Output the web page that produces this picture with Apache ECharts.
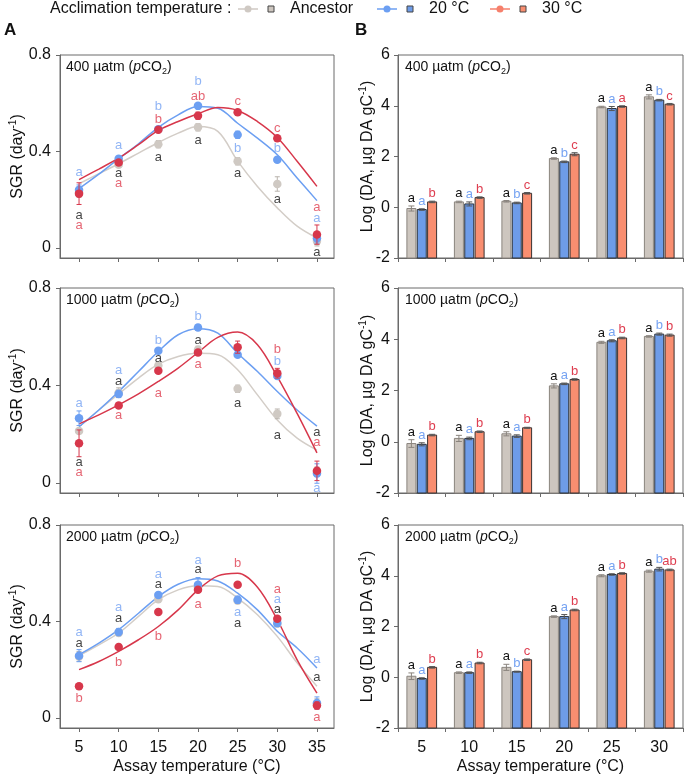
<!DOCTYPE html>
<html><head><meta charset="utf-8">
<script src="https://cdn.jsdelivr.net/npm/echarts@6/dist/echarts.min.js"></script>
<style>html,body{margin:0;padding:0;background:#fff}#c{width:685px;height:777px}</style>
</head><body><div id="c"></div><script>
const FONT = '"Liberation Sans", Arial, Helvetica, sans-serif';

// ---------- Panel A data (SGR, day^-1) ----------
const temps = [5, 10, 15, 20, 25, 30, 35];
const curveTemps = [5, 7.5, 10, 12.5, 15, 17.5, 20, 22.5, 25, 27.5, 30, 32.5, 35];
const xTicksA = [5, 10, 15, 20, 25, 30, 35];
const yTicksA = [0, 0.4, 0.8];

const sgr400Anc = [0.23, 0.345, 0.43, 0.50, 0.359, 0.265, 0.028];
const sgr400W20 = [0.241, 0.37, 0.492, 0.589, 0.469, 0.366, 0.04];
const sgr400W30 = [0.225, 0.354, 0.49, 0.548, 0.563, 0.455, 0.055];
const err400Anc = [0.02, 0.01, 0.015, 0.015, 0.015, 0.03, 0.02];
const err400W20 = [0.02, 0.01, 0.01, 0.01, 0.015, 0.01, 0.02];
const err400W30 = [0.045, 0.01, 0.01, 0.015, 0.01, 0.01, 0.04];
const fit400Anc = [0.266, 0.308, 0.349, 0.393, 0.437, 0.476, 0.503, 0.483, 0.36, 0.255, 0.166, 0.09, 0.041];
const fit400W20 = [0.246, 0.306, 0.37, 0.432, 0.50, 0.552, 0.586, 0.579, 0.517, 0.455, 0.386, 0.29, 0.196];
const fit400W30 = [0.283, 0.327, 0.372, 0.428, 0.487, 0.524, 0.556, 0.582, 0.570, 0.524, 0.458, 0.359, 0.255];

const sgr1000Anc = [0.213, 0.37, 0.482, 0.546, 0.386, 0.283, 0.045];
const sgr1000W20 = [0.265, 0.365, 0.542, 0.638, 0.526, 0.439, 0.038];
const sgr1000W30 = [0.162, 0.317, 0.46, 0.535, 0.557, 0.45, 0.049];
const err1000Anc = [0.01, 0.02, 0.01, 0.015, 0.015, 0.02, 0.02];
const err1000W20 = [0.03, 0.015, 0.01, 0.01, 0.01, 0.01, 0.04];
const err1000W30 = [0.055, 0.01, 0.01, 0.01, 0.025, 0.02, 0.04];
const fit1000Anc = [0.23, 0.299, 0.365, 0.43, 0.487, 0.519, 0.532, 0.526, 0.464, 0.361, 0.258, 0.183, 0.134];
const fit1000W20 = [0.23, 0.299, 0.375, 0.457, 0.539, 0.608, 0.633, 0.615, 0.532, 0.457, 0.375, 0.299, 0.233];
const fit1000W30 = [0.242, 0.279, 0.32, 0.365, 0.416, 0.471, 0.535, 0.597, 0.619, 0.567, 0.436, 0.285, 0.123];

const sgr2000Anc = [0.255, 0.352, 0.492, 0.542, 0.486, 0.39, 0.059];
const sgr2000W20 = [0.258, 0.356, 0.51, 0.552, 0.49, 0.393, 0.062];
const sgr2000W30 = [0.131, 0.294, 0.439, 0.531, 0.552, 0.411, 0.051];
const err2000Anc = [0.02, 0.01, 0.01, 0.015, 0.01, 0.01, 0.02];
const err2000W20 = [0.025, 0.015, 0.01, 0.03, 0.015, 0.01, 0.025];
const err2000W30 = [0.01, 0.01, 0.01, 0.01, 0.01, 0.01, 0.015];
const fit2000Anc = [0.258, 0.303, 0.352, 0.421, 0.49, 0.531, 0.548, 0.545, 0.497, 0.428, 0.338, 0.228, 0.131];
const fit2000W20 = [0.262, 0.31, 0.366, 0.434, 0.503, 0.554, 0.577, 0.568, 0.517, 0.448, 0.359, 0.29, 0.207];
const fit2000W30 = [0.20, 0.234, 0.276, 0.324, 0.379, 0.448, 0.531, 0.589, 0.60, 0.542, 0.407, 0.241, 0.103];

// significance letters: [temperature, value at letter, letter]
const let400Anc = [[5,0.135,'a'],[10,0.308,'a'],[15,0.377,'a'],[20,0.446,'a'],[25,0.308,'a'],[30,0.2,'a'],[35,-0.017,'a']];
const let400W20 = [[5,0.315,'a'],[10,0.425,'a'],[15,0.586,'b'],[20,0.69,'b'],[25,0.414,'b'],[30,0.411,'b'],[35,0.121,'a']];
const let400W30 = [[5,0.094,'a'],[10,0.266,'a'],[15,0.531,'b'],[20,0.63,'ab'],[25,0.607,'c'],[30,0.497,'c'],[35,0.166,'a']];
const let1000Anc = [[5,0.082,'a'],[10,0.416,'a'],[15,0.512,'a'],[20,0.583,'a'],[25,0.327,'a'],[30,0.196,'a'],[35,0.206,'a']];
const let1000W20 = [[5,0.327,'a'],[10,0.461,'a'],[15,0.583,'b'],[20,0.683,'b'],[30,0.498,'b'],[35,-0.023,'a']];
const let1000W30 = [[5,0.043,'a'],[10,0.276,'a'],[15,0.368,'a'],[20,0.487,'a'],[30,0.546,'b'],[35,0.166,'a']];
const let2000Anc = [[5,0.308,'a'],[10,0.414,'a'],[15,0.552,'a'],[20,0.617,'a'],[25,0.39,'a'],[30,0.448,'a'],[35,0.166,'a']];
const let2000W20 = [[5,0.356,'a'],[10,0.459,'a'],[15,0.597,'a'],[20,0.655,'a'],[25,0.439,'a'],[30,0.49,'a'],[35,0.244,'a']];
const let2000W30 = [[5,0.08,'b'],[10,0.23,'b'],[15,0.338,'b'],[20,0.472,'a'],[25,0.641,'b'],[30,0.534,'a'],[35,0.0,'a']];

// ---------- Panel B data (Log DA) ----------
const barCats = ['5', '10', '15', '20', '25', '30'];
const da400Anc = [-0.05, 0.21, 0.235, 1.92, 3.95, 4.35];
const da400W20 = [-0.09, 0.13, 0.17, 1.79, 3.89, 4.22];
const da400W30 = [0.21, 0.38, 0.55, 2.09, 3.97, 4.06];
const daErr400Anc = [0.1, 0.03, 0.03, 0.03, 0.03, 0.08];
const daErr400W20 = [0.03, 0.08, 0.03, 0.03, 0.08, 0.03];
const daErr400W30 = [0.03, 0.03, 0.03, 0.06, 0.03, 0.03];
const daLet400Anc = ['a','a','a','a','a','a'];
const daLet400W20 = ['a','a','b','b','a','b'];
const daLet400W30 = ['b','b','c','c','a','c'];

const da1000Anc = [-0.07, 0.13, 0.31, 2.18, 3.88, 4.11];
const da1000W20 = [-0.10, 0.13, 0.22, 2.26, 3.94, 4.20];
const da1000W30 = [0.26, 0.39, 0.545, 2.43, 4.05, 4.16];
const daErr1000Anc = [0.15, 0.12, 0.08, 0.08, 0.04, 0.03];
const daErr1000W20 = [0.06, 0.05, 0.05, 0.03, 0.04, 0.04];
const daErr1000W30 = [0.03, 0.03, 0.02, 0.03, 0.03, 0.04];
const daLet1000Anc = ['a','a','a','a','a','a'];
const daLet1000W20 = ['a','a','a','a','a','b'];
const daLet1000W30 = ['b','b','b','b','b','b'];

const da2000Anc = [0.04, 0.18, 0.39, 2.39, 4.00, 4.18];
const da2000W20 = [-0.05, 0.18, 0.22, 2.39, 4.05, 4.26];
const da2000W30 = [0.39, 0.56, 0.69, 2.65, 4.09, 4.23];
const daErr2000Anc = [0.13, 0.03, 0.12, 0.03, 0.04, 0.04];
const daErr2000W20 = [0.03, 0.03, 0.02, 0.08, 0.03, 0.07];
const daErr2000W30 = [0.03, 0.03, 0.03, 0.03, 0.03, 0.03];
const daLet2000Anc = ['a','a','a','a','a','a'];
const daLet2000W20 = ['a','a','b','a','a','b'];
const daLet2000W30 = ['b','b','c','b','b','ab'];

const panelCO2 = ['400', '1000', '2000'];
const groupNames = ['Ancestor', '20 °C', '30 °C'];

// ---------- styling ----------
const PT = ['#cfc9c3', '#6c9ff2', '#d7374b'];
const LINE = ['#d3cdc7', '#6c9ff2', '#d7374b'];
const ERRC = ['#b9b3ad', '#6c9ff2', '#d7374b'];
const LETC = ['#111111', '#76a3f2', '#de3e50'];
const BARF = ['#cdc6bf', '#6e9ce8', '#f98e70'];
const BARB = ['#8a847e', '#2b3038', '#3a3232'];
const BERR = ['#8a847e', '#555555', '#555555'];
const tops = [55, 288, 525];
const heights = [203, 205, 203];
const AXC = '#6a6a6a';
const BAR_W = 9, BAR_STEP = 10.35;

const sgrSets = [
  [sgr400Anc, sgr400W20, sgr400W30, err400Anc, err400W20, err400W30, fit400Anc, fit400W20, fit400W30, let400Anc, let400W20, let400W30],
  [sgr1000Anc, sgr1000W20, sgr1000W30, err1000Anc, err1000W20, err1000W30, fit1000Anc, fit1000W20, fit1000W30, let1000Anc, let1000W20, let1000W30],
  [sgr2000Anc, sgr2000W20, sgr2000W30, err2000Anc, err2000W20, err2000W30, fit2000Anc, fit2000W20, fit2000W30, let2000Anc, let2000W20, let2000W30]
];
const daSets = [
  [da400Anc, da400W20, da400W30, daErr400Anc, daErr400W20, daErr400W30, daLet400Anc, daLet400W20, daLet400W30],
  [da1000Anc, da1000W20, da1000W30, daErr1000Anc, daErr1000W20, daErr1000W30, daLet1000Anc, daLet1000W20, daLet1000W30],
  [da2000Anc, da2000W20, da2000W30, daErr2000Anc, daErr2000W20, daErr2000W30, daLet2000Anc, daLet2000W20, daLet2000W30]
];

const gA = [], gB = [], xA = [], xB = [], yA = [], yB = [], series = [], titles = [];

const richTitle = {
  n: {fontSize: 14, fontFamily: FONT, color: '#111', fontWeight: 'normal', lineHeight: 18},
  i: {fontSize: 14, fontFamily: FONT, color: '#111', fontWeight: 'normal', fontStyle: 'italic', lineHeight: 18},
  s: {fontSize: 9, fontFamily: FONT, color: '#111', fontWeight: 'normal', lineHeight: 8, verticalAlign: 'bottom'}
};
const supRich = {sup: {fontSize: 10, fontFamily: FONT, color: '#111', lineHeight: 10, verticalAlign: 'top'}};

function errRender(offsetPx, color, cap) {
  return function (params, api) {
    const x = api.value(0), lo = api.value(1), hi = api.value(2);
    const p1 = api.coord([x, lo]), p2 = api.coord([x, hi]);
    const cx = p1[0] + offsetPx;
    const st = {stroke: color, lineWidth: 1};
    return {type: 'group', children: [
      {type: 'line', shape: {x1: cx, y1: p1[1], x2: cx, y2: p2[1]}, style: st},
      {type: 'line', shape: {x1: cx - cap, y1: p1[1], x2: cx + cap, y2: p1[1]}, style: st},
      {type: 'line', shape: {x1: cx - cap, y1: p2[1], x2: cx + cap, y2: p2[1]}, style: st}
    ]};
  };
}

// bars drawn from the bottom of the value axis (-2) up to the value
function barRender(k, letters, errs) {
  return function (params, api) {
    const j = api.value(0), v = api.value(1);
    const yMin = api.coord([j, -2]);
    const top = api.coord([j, v]);
    const errTop = api.coord([j, v + errs[params.dataIndex]]);
    const cx = top[0] + (k - 1) * BAR_STEP;
    return {type: 'group', children: [
      {type: 'rect', shape: {x: cx - BAR_W / 2, y: top[1], width: BAR_W, height: yMin[1] - top[1]},
        style: {fill: BARF[k], stroke: BARB[k], lineWidth: 1}},
      {type: 'text', x: cx, y: Math.min(top[1], errTop[1]) - 1,
        style: {text: letters[params.dataIndex], fill: LETC[k], font: '13px ' + FONT, align: 'center', verticalAlign: 'bottom'}}
    ]};
  };
}

for (let i = 0; i < 3; i++) {
  const last = i === 2;
  // ---- Panel A, grid i ----
  gA.push({left: 60, top: tops[i], width: 274, height: heights[i], show: true, borderColor: AXC, borderWidth: 1});
  xA.push({
    type: 'value', gridIndex: i, min: 2.6, max: 37.15,
    axisLine: {show: true, onZero: false, lineStyle: {color: AXC}},
    axisTick: {show: true, inside: false, length: 4, customValues: xTicksA, lineStyle: {color: AXC}},
    axisLabel: {show: last, customValues: xTicksA, margin: 12, fontSize: 16, color: '#111', fontFamily: FONT},
    splitLine: {show: false},
    name: last ? 'Assay temperature (°C)' : '', nameLocation: 'middle', nameGap: 31, nameMoveOverlap: false,
    nameTextStyle: {fontSize: 16, color: '#111', fontFamily: FONT}
  });
  yA.push({
    type: 'value', gridIndex: i, min: -0.042, max: 0.8,
    axisLine: {show: true, onZero: false, lineStyle: {color: AXC}},
    axisTick: {show: true, length: 4, customValues: yTicksA, lineStyle: {color: AXC}},
    axisLabel: {customValues: yTicksA, margin: 9, fontSize: 16, color: '#111', fontFamily: FONT},
    splitLine: {show: false},
    name: 'SGR (day{sup|-1})', nameLocation: 'middle', nameGap: 32, nameMoveOverlap: false,
    nameTextStyle: {fontSize: 16, color: '#111', fontFamily: FONT, lineHeight: 20, rich: supRich}
  });
  const S = sgrSets[i];
  for (let k = 0; k < 3; k++) {
    series.push({
      type: 'line', xAxisIndex: i, yAxisIndex: i, smooth: 0.35, showSymbol: false, silent: true,
      data: curveTemps.map((t, j) => [t, S[6 + k][j]]),
      lineStyle: {color: LINE[k], width: 1.5}, z: 2 + k * 0.1
    });
  }
  for (let k = 0; k < 3; k++) {
    series.push({
      type: 'custom', xAxisIndex: i, yAxisIndex: i, silent: true, z: 3 + k * 0.1,
      renderItem: errRender(0, ERRC[k], 2.5),
      data: temps.map((t, j) => [t, S[k][j] - S[3 + k][j], S[k][j] + S[3 + k][j]])
    });
    series.push({
      type: 'scatter', xAxisIndex: i, yAxisIndex: i, symbolSize: 8.5, silent: true, z: 3.05 + k * 0.1,
      itemStyle: {color: PT[k], opacity: 1},
      data: temps.map((t, j) => [t, S[k][j]])
    });
  }
  for (let k = 0; k < 3; k++) {
    series.push({
      type: 'scatter', xAxisIndex: i, yAxisIndex: i, symbolSize: 1, silent: true, z: 6,
      itemStyle: {color: 'rgba(0,0,0,0)'},
      label: {show: true, position: 'inside', formatter: p => p.data[2], color: LETC[k], fontSize: 13, fontFamily: FONT},
      data: S[9 + k]
    });
  }
  titles.push({
    text: '{n|' + panelCO2[i] + ' µatm (}{i|p}{n|CO}{s|2}{n|)}',
    left: 66, top: tops[i] + 3, padding: 0,
    textStyle: {fontWeight: 'normal', rich: richTitle}
  });

  // ---- Panel B, grid 3+i ----
  const g = 3 + i;
  gB.push({left: 398, top: tops[i], width: 285, height: heights[i], show: true, borderColor: AXC, borderWidth: 1});
  xB.push({
    type: 'category', gridIndex: g, data: barCats, boundaryGap: true,
    axisLine: {show: true, onZero: false, lineStyle: {color: AXC}},
    axisTick: {show: true, length: 4, lineStyle: {color: AXC}},
    axisLabel: {show: last, margin: 12, fontSize: 16, color: '#111', fontFamily: FONT},
    splitLine: {show: false},
    name: last ? 'Assay temperature (°C)' : '', nameLocation: 'middle', nameGap: 31, nameMoveOverlap: false,
    nameTextStyle: {fontSize: 16, color: '#111', fontFamily: FONT}
  });
  yB.push({
    type: 'value', gridIndex: g, min: -2, max: 6, interval: 2,
    axisLine: {show: true, onZero: false, lineStyle: {color: AXC}},
    axisTick: {show: true, length: 4, lineStyle: {color: AXC}},
    axisLabel: {margin: 8, fontSize: 16, color: '#111', fontFamily: FONT},
    splitLine: {show: false},
    name: 'Log (DA, µg DA gC{sup|-1})', nameLocation: 'middle', nameGap: 20, nameMoveOverlap: false,
    nameTextStyle: {fontSize: 16, color: '#111', fontFamily: FONT, lineHeight: 20, rich: supRich}
  });
  const D = daSets[i];
  for (let k = 0; k < 3; k++) {
    series.push({
      type: 'custom', xAxisIndex: g, yAxisIndex: g, name: groupNames[k], silent: true, z: 2,
      renderItem: barRender(k, D[6 + k], D[3 + k]),
      data: D[k].map((v, j) => [j, v])
    });
  }
  for (let k = 0; k < 3; k++) {
    series.push({
      type: 'custom', xAxisIndex: g, yAxisIndex: g, silent: true, z: 4,
      renderItem: errRender((k - 1) * BAR_STEP, BERR[k], 3),
      data: barCats.map((c, j) => [j, D[k][j] - D[3 + k][j], D[k][j] + D[3 + k][j]])
    });
  }
  titles.push({
    text: '{n|' + panelCO2[i] + ' µatm (}{i|p}{n|CO}{s|2}{n|)}',
    left: 405, top: tops[i] + 3, padding: 0,
    textStyle: {fontWeight: 'normal', rich: richTitle}
  });
}

// ---------- legend & panel letters (graphic) ----------
const legY = 9;
const legFont = '16px ' + FONT;
const graphic = [
  {type: 'text', x: 50, y: legY, style: {text: 'Acclimation temperature :', font: legFont, fill: '#111', verticalAlign: 'middle'}},
  {type: 'text', x: 4, y: 30, style: {text: 'A', font: 'bold 17px ' + FONT, fill: '#111', verticalAlign: 'middle'}},
  {type: 'text', x: 355, y: 30, style: {text: 'B', font: 'bold 17px ' + FONT, fill: '#111', verticalAlign: 'middle'}}
];
const legX = [238, 377, 490];
const legLineC = ['#cfc9c3', '#6c9ff2', '#f6806c'];
groupNames.forEach((nm, k) => {
  const x0 = legX[k];
  graphic.push({type: 'line', shape: {x1: x0, y1: legY, x2: x0 + 20, y2: legY}, style: {stroke: legLineC[k], lineWidth: 1.5}});
  graphic.push({type: 'circle', shape: {cx: x0 + 10, cy: legY, r: 3.5}, style: {fill: legLineC[k]}});
  graphic.push({type: 'rect', shape: {x: x0 + 30, y: legY - 3, width: 6, height: 6}, style: {fill: BARF[k], stroke: '#444', lineWidth: 1}});
  graphic.push({type: 'text', x: x0 + 52, y: legY, style: {text: nm, font: legFont, fill: '#111', verticalAlign: 'middle'}});
});

const chart = echarts.init(document.getElementById('c'));
chart.setOption({
  animation: false,
  backgroundColor: '#fff',
  textStyle: {fontFamily: FONT},
  title: titles,
  grid: gA.concat(gB),
  xAxis: xA.concat(xB),
  yAxis: yA.concat(yB),
  series: series,
  graphic: graphic
});
</script></body></html>
